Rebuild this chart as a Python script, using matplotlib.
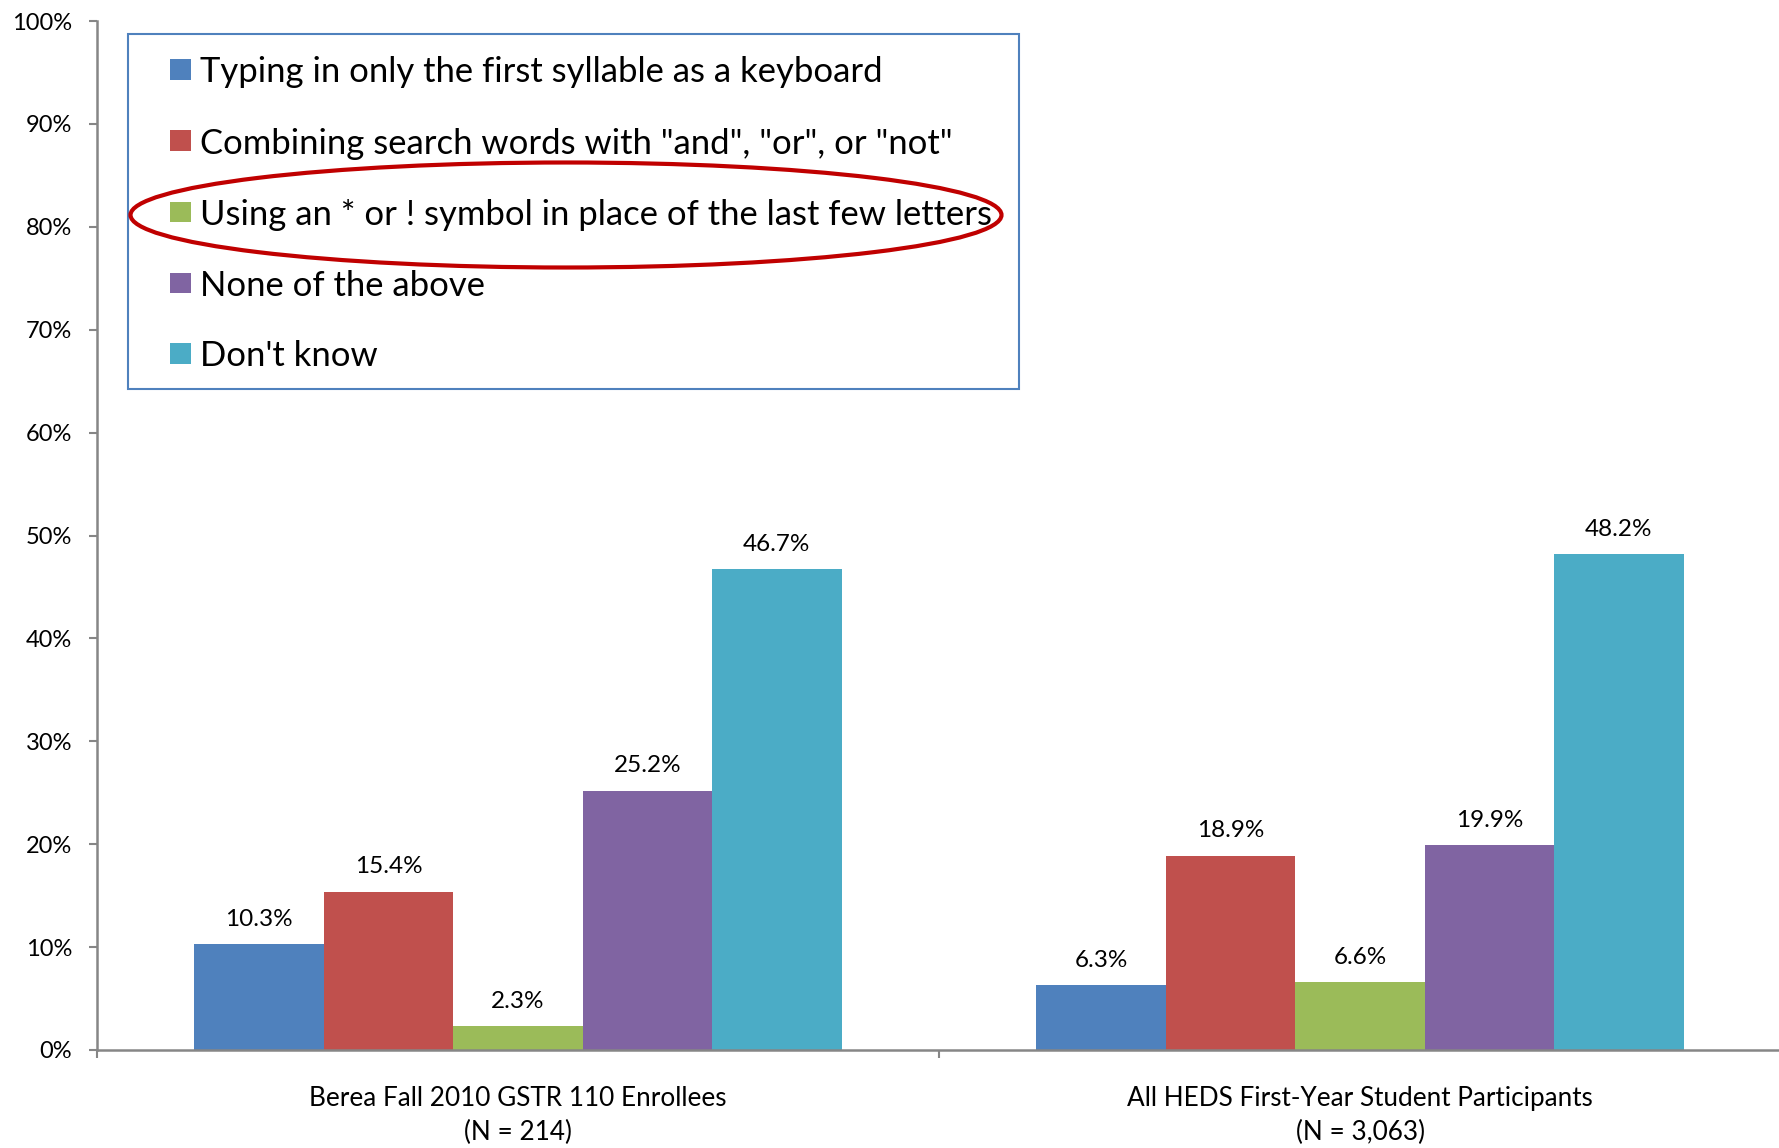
import matplotlib
matplotlib.use("Agg")
import matplotlib.pyplot as plt
import numpy as np
from matplotlib.patches import Rectangle, Ellipse

plt.rcParams['font.family'] = ['Lato', 'DejaVu Sans']

W, H = 1779, 1148

groups = ["Berea Fall 2010 GSTR 110 Enrollees\n(N = 214)",
          "All HEDS First-Year Student Participants\n(N = 3,063)"]
series = ["Typing in only the first syllable as a keyboard",
          "Combining search words with \"and\", \"or\", or \"not\"",
          "Using an * or ! symbol in place of the last few letters",
          "None of the above",
          "Don't know"]
colors = ["#4F81BD", "#C0504D", "#9BBB59", "#8064A2", "#4BACC6"]
berea = [10.3, 15.4, 2.3, 25.2, 46.7]
heds = [6.3, 18.9, 6.6, 19.9, 48.2]
values = np.array([berea, heds])  # shape groups x series
yticks = [0, 10, 20, 30, 40, 50, 60, 70, 80, 90, 100]
ytick_labels = [f"{v}%" for v in yticks]

fig = plt.figure(figsize=(W / 100, H / 100), dpi=100)
ax = fig.add_axes([97 / W, 98 / H, (1781 - 97) / W, (1050 - 21) / H])

x = np.arange(len(groups))
bw = 0.1537
for i, (name, col) in enumerate(zip(series, colors)):
    pos = x + (i - 2) * bw
    bars = ax.bar(pos, values[:, i], width=bw, color=col, label=name, zorder=2)
    for b, v in zip(bars, values[:, i]):
        ax.annotate(f"{v:.1f}%", (b.get_x() + b.get_width() / 2, v),
                    xytext=(0, 18), textcoords="offset points",
                    ha="center", va="center", fontsize=17.5, color="black")

ax.set_xlim(-0.5, 1.5)
ax.set_ylim(0, 100)
ax.set_yticks(yticks)
ax.set_yticklabels(ytick_labels, fontsize=17)
ax.set_xticks(x)
ax.set_xticklabels(groups, fontsize=18.8, linespacing=1.45)
ax.set_xticks([-0.5, 0.5, 1.5], minor=True)
ax.tick_params(axis="x", which="major", length=0, pad=26)
ax.tick_params(axis="x", which="minor", length=6, width=1.5, color="#868686", direction="out")
ax.tick_params(axis="y", length=6, width=1.5, color="#868686", pad=12)
for s in ["top", "right"]:
    ax.spines[s].set_visible(False)
for s in ["left", "bottom"]:
    ax.spines[s].set_color("#868686")
    ax.spines[s].set_linewidth(1.8)

# legend box (manual)
def fx(px):
    return px / W

def fy(py):
    return 1 - py / H

fig.patches.append(Rectangle((fx(128), fy(389)), fx(1019) - fx(128), fy(34) - fy(389),
                             transform=fig.transFigure, fill=True, facecolor="white",
                             edgecolor="#4F81BD", lw=1.5, zorder=5))
rows = [69.5, 140.5, 212, 283, 353]
for yy, name, col in zip(rows, series, colors):
    fig.patches.append(Rectangle((fx(170), fy(yy + 10.5)), fx(191) - fx(170), fy(yy - 10.5) - fy(yy + 10.5),
                                 transform=fig.transFigure, facecolor=col, edgecolor="none", zorder=6))
    fig.text(fx(200), fy(yy), name, fontsize=24.9, va="center_baseline", ha="left", zorder=7)

fig.patches.append(Ellipse((fx(566), fy(215)), fx(871), 105 / H, transform=fig.transFigure,
                           fill=False, edgecolor="#C00000", lw=3, zorder=8))

fig.savefig("out.png", dpi=100)
